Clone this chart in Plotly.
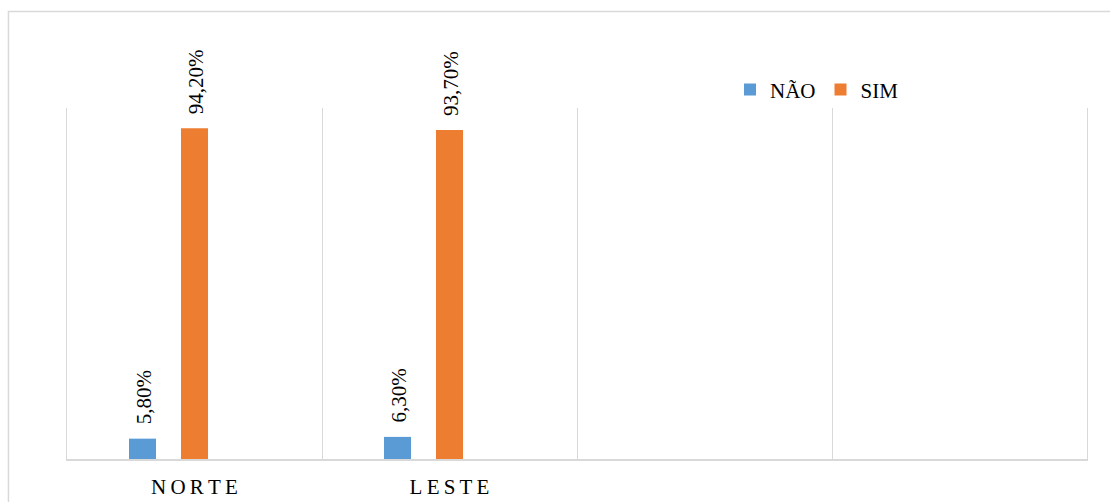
import plotly.graph_objects as go

# ---- data ----
categories = ["NORTE", "LESTE", "vazio1", "vazio2"]
tick_labels = ["\u2009".join("NORTE"), "\u2009".join("LESTE"), "", ""]
series_names = ["NÃO", "SIM"]
nao_values = [5.8, 6.3, None, None]
sim_values = [94.2, 93.7, None, None]

BLUE = "#5B9BD5"
ORANGE = "#ED7D31"
GRID = "#D9D9D9"
FONT = "Liberation Serif"

BAR_W = 0.106
fig = go.Figure()
fig.add_trace(go.Bar(x=categories, y=nao_values, name=series_names[0],
                     marker=dict(color=BLUE, line=dict(width=0)),
                     width=BAR_W, offset=-0.204 - BAR_W / 2))
fig.add_trace(go.Bar(x=categories, y=sim_values, name=series_names[1],
                     marker=dict(color=ORANGE, line=dict(width=0)),
                     width=BAR_W, offset=-BAR_W / 2))


def fmt(v):
    return f"{v:.2f}".replace(".", ",") + "%"


annotations = []
for vals, shift in ((nao_values, -52), (sim_values, 0)):
    for c, v in zip(categories, vals):
        if v is None:
            continue
        annotations.append(dict(x=c, y=v, xref="x", yref="y", text=fmt(v),
                                showarrow=False, textangle=-90,
                                xanchor="center", yanchor="bottom",
                                xshift=shift + 1, yshift=12,
                                font=dict(family=FONT, size=21, color="#000")))

fig.update_layout(
    width=1110, height=502,
    margin=dict(l=67, r=23, t=108, b=43),
    paper_bgcolor="white", plot_bgcolor="white",
    font=dict(family=FONT, color="#000"),
    barmode="group",
    showlegend=True,
    legend=dict(orientation="h", x=0.650, y=1.052, xanchor="left", yanchor="middle",
                font=dict(family=FONT, size=21, color="#000"),
                bgcolor="rgba(0,0,0,0)", itemclick=False),
    annotations=annotations,
    shapes=[dict(type="rect", xref="paper", yref="paper",
                 x0=-0.0574, x1=1.2, y0=-0.3, y1=1.2749,
                 line=dict(color=GRID, width=1.5), fillcolor="rgba(0,0,0,0)",
                 layer="below")],
    xaxis=dict(type="category", categoryorder="array", categoryarray=categories,
               tickvals=categories, ticktext=tick_labels, tickson="boundaries",
               range=[-0.5, 3.5], automargin=False,
               showgrid=True, gridcolor=GRID, gridwidth=1.3,
               showline=True, linecolor=GRID, linewidth=1.8,
               ticks="", ticklabelstandoff=8,
               tickfont=dict(family=FONT, size=21, color="#000"),
               fixedrange=True),
    yaxis=dict(range=[0, 100], showgrid=False, zeroline=False, automargin=False,
               showticklabels=False, showline=True, mirror=True,
               linecolor=GRID, linewidth=1.3, fixedrange=True),
)

fig.write_html("out.html")
